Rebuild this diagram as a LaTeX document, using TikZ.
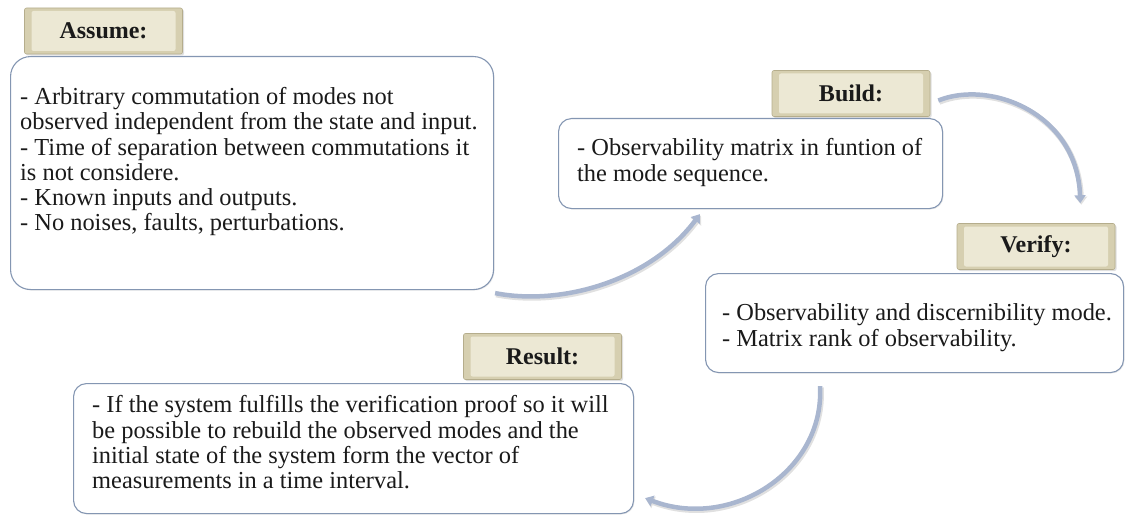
\documentclass[tikz,border=0pt]{standalone}
\usepackage{fontspec}
\setmainfont{Liberation Serif}
\usetikzlibrary{arrows.meta,calc,shadows}
\definecolor{boxline}{HTML}{8496B2}
\definecolor{tabdark}{HTML}{D6CFB0}
\definecolor{tablight}{HTML}{ECE8D4}
\definecolor{tabline}{HTML}{B5AD8C}
\definecolor{arrowc}{HTML}{A9B6CF}
\definecolor{txt}{HTML}{1A1A1A}
\begin{document}
\begin{tikzpicture}[x=1pt,y=-1pt,
  panel/.style={draw=boxline, line width=1.1pt, fill=white, anchor=north west, inner sep=0pt,
    drop shadow={shadow xshift=1pt, shadow yshift=-1pt, opacity=0.15}},
  tab/.style={draw=tabline, line width=0.6pt, fill=tabdark, rounded corners=2pt,
    minimum width=158pt, minimum height=46pt, inner sep=0pt,
    font=\fontsize{24}{26}\selectfont\bfseries, text=txt,
    drop shadow={shadow xshift=1.5pt, shadow yshift=-1.5pt, opacity=0.25},
    path picture={\fill[tablight] ($(path picture bounding box.south west)+(7pt,3pt)$) rectangle ($(path picture bounding box.north east)+(-7pt,-3pt)$);}},
  body/.style={anchor=north west, inner sep=0pt, align=left, text=txt,
    font=\fontsize{24.4}{25.3}\selectfont},
  flow/.style={draw=arrowc, line width=4.5pt, -{Triangle[width=11pt,length=8pt]},
    preaction={draw=black!12, line width=5.5pt, transform canvas={shift={(1pt,-1.5pt)}}, -{Triangle[width=12pt,length=8pt]}}}
]
\useasboundingbox (0,0) rectangle (1125,516);

% boxes
\node[panel, rounded corners=20pt, minimum width=483pt, minimum height=233pt] (assume) at (10,56) {};
\node[panel, rounded corners=13pt, minimum width=384pt, minimum height=90pt] (build) at (558,118) {};
\node[panel, rounded corners=13pt, minimum width=418pt, minimum height=99pt] (verify) at (705,273) {};
\node[panel, rounded corners=13pt, minimum width=560pt, minimum height=130pt] (result) at (73,383) {};

% tabs
\node[tab] (assumeT) at (103.5,31) {Assume:};
\node[tab] (buildT) at (851,93.5) {Build:};
\node[tab] (verifyT) at (1036,246.5) {Verify:};
\node[tab] (resultT) at (542.5,356.5) {Result:};

% texts
\node[body] (assumeX) at (20,86.5) {\strut- Arbitrary commutation of modes not\\
observed independent from the state and input.\\
- Time of separation between commutations it\\
is not considere.\\
- Known inputs and outputs.\\
- No noises, faults, perturbations.};
\node[body] (buildX) at (577,138) {\strut- Observability matrix in funtion of\\
the mode sequence.};
\node[body] (verifyX) at (722,303) {\strut- Observability and discernibility mode.\\
- Matrix rank of observability.};
\node[body] (resultX) at (92,395) {\strut- If the system fulfills the verification proof so it will\\
be possible to rebuild the observed modes and the\\
initial state of the system form the vector of\\
measurements in a time interval.};

% arrows
\draw[flow] ($(assume.south east)+(1,3)$) .. controls ($(assume.south east)+(67,16)$) and ($(build.south west)+(92,72)$) .. ($(build.south west)+(142,5)$);
\draw[flow] ($(buildT.east)+(8,7)$) .. controls ($(buildT.east)+(60,-14)$) and ($(verifyT.north east)+(-38,-110)$) .. ($(verifyT.north east)+(-35,-20)$);
\draw[flow] ($(verify.south west)+(115,13)$) .. controls ($(verify.south west)+(120,98)$) and ($(result.south east)+(97,17)$) .. ($(result.south east)+(11,-16)$);
\end{tikzpicture}
\end{document}
